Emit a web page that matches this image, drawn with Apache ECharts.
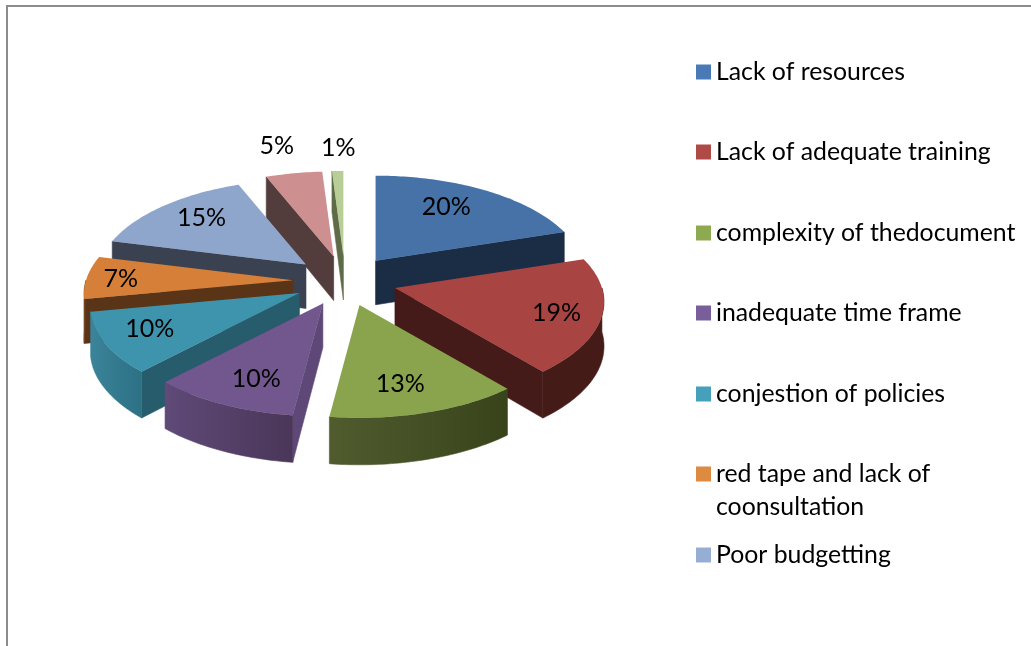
<!DOCTYPE html>
<html>
<head>
<meta charset="utf-8">
<style>
  html, body { margin: 0; padding: 0; background: #fff; }
  #chart { width: 1031px; height: 646px; }
</style>
<script src="https://cdn.jsdelivr.net/npm/echarts@6/dist/echarts.min.js"></script>
</head>
<body>
<div id="chart"></div>
<script>
// values
const sliceNames = [
  'Lack of resources',
  'Lack of adequate training',
  'complexity of thedocument',
  'inadequate time frame',
  'conjestion of policies',
  'red tape and lack of\ncoonsultation',
  'Poor budgetting',
  'slice 8',
  'slice 9'
]
const sliceValues = [20, 19, 13, 10, 10, 7, 15, 5, 1]

// colours per slice
const topColors = ['#4672a8', '#a84442', '#89a44c', '#71578e', '#3f94ad', '#d67f38', '#8fa6cc', '#cd8f8f', '#b9cd96']
const wallColors = ['#1b2d44', '#441b18', '#38431b', '#5d4878', '#265c6b', '#5a3416', '#3a4150', '#533c3c', '#5f6b48']
const rimFrom = ['#1b2d44', '#451b18', '#505c2e', '#5f4a78', '#3b8499', '#7a4a20', '#3a4150', '#533c3c', '#5f6b48']
const rimTo = ['#1b2d44', '#451b18', '#38431b', '#4a3658', '#2c7084', '#5a3416', '#3a4150', '#533c3c', '#5f6b48']
const legendColors = ['#4a7ab5', '#b04a47', '#8daa50', '#785f99', '#45a0bb', '#de8a41', '#97aed4']

// painter order, back to front
const backToFront = [8, 7, 6, 5, 4, 3, 0, 1, 2]

// label placement along the slice, then a small nudge
const labelRadius = [0.73, 0.8, 0.7, 0.72, 0.77, 0.86, 0.77, 1.33, 1.25]
const labelDx = [-9, -4, -6, 6, 0, 5, 5, -4, 2]
const labelDy = [-2, 2, 4, 3, -3, 1, -1, 0, -2]
const legendCenters = [72, 152, 233, 313, 394, 474, 555]

const startAngle = 0
const cx = 345
const cy = 281
const explodeX = 52
const explodeY = 25
const radiusX = 207
const radiusY = 97
const persp = 0.14

const total = sliceValues.reduce(function (a, b) { return a + b }, 0)

function rad (d) { return d * Math.PI / 180 }

function sliceAngles (idx) {
  let before = 0
  for (let i = 0; i < idx; i++) before += sliceValues[i]
  const t1 = startAngle + before / total * 360
  const t2 = t1 + sliceValues[idx] / total * 360
  return [t1, t2]
}

function rimPoint (apex, t, frac) {
  const v = -Math.cos(rad(t))
  const s = 1 / (1 - persp * v)
  return [apex[0] + radiusX * frac * Math.sin(rad(t)) * s, apex[1] + radiusY * frac * v * s]
}

function depthAt (t) {
  return 44 - 3 * Math.cos(rad(t))
}

function wall (apex, t, color) {
  const p = rimPoint(apex, t, 1)
  const d = depthAt(t)
  return {
    type: 'polygon',
    shape: { points: [apex, p, [p[0], p[1] + d], [apex[0], apex[1] + 44]] },
    style: { fill: color, stroke: color, lineWidth: 0.6 }
  }
}

function renderSlice (params, api) {
  const i = params.seriesIndex
  const angles = sliceAngles(i)
  const t1 = angles[0]
  const t2 = angles[1]
  const mid = (t1 + t2) / 2
  const apex = [cx + explodeX * Math.sin(rad(mid)), cy - explodeY * Math.cos(rad(mid))]
  const children = []

  // side walls that face the viewer
  if (Math.sin(rad(t1)) < -0.001) children.push(wall(apex, t1, wallColors[i]))
  if (Math.sin(rad(t2)) > 0.001) children.push(wall(apex, t2, wallColors[i]))

  // outer rim, front half only
  const a = Math.max(t1, 90)
  const b = Math.min(t2, 270)
  if (a < b) {
    const upper = []
    const lower = []
    for (let t = a; t < b; t += 1) {
      const p = rimPoint(apex, t, 1)
      upper.push(p)
      lower.unshift([p[0], p[1] + depthAt(t)])
    }
    const q = rimPoint(apex, b, 1)
    upper.push(q)
    lower.unshift([q[0], q[1] + depthAt(b)])
    const rimFill = new echarts.graphic.LinearGradient(0, 0, 1, 0, [
      { offset: 0, color: rimFrom[i] },
      { offset: 1, color: rimTo[i] }
    ])
    children.push({
      type: 'polygon',
      shape: { points: upper.concat(lower) },
      style: { fill: rimFill, stroke: rimFill, lineWidth: 0.6 }
    })
  }

  // top face
  const top = [apex]
  for (let t = t1; t < t2; t += 1) top.push(rimPoint(apex, t, 1))
  top.push(rimPoint(apex, t2, 1))
  children.push({
    type: 'polygon',
    shape: { points: top },
    style: { fill: topColors[i] }
  })

  const lp = rimPoint(apex, mid, labelRadius[i])
  children.push({
    type: 'text',
    style: {
      x: lp[0] + labelDx[i],
      y: lp[1] + labelDy[i],
      text: api.value(0) + '%',
      align: 'center',
      verticalAlign: 'middle',
      fill: '#000',
      fontFamily: 'Lato',
      fontSize: 25
    }
  })
  return { type: 'group', children: children }
}

const series = sliceNames.map(function (name, i) {
  return {
    type: 'custom',
    name: name,
    coordinateSystem: 'none',
    z: 2 + backToFront.indexOf(i),
    silent: true,
    itemStyle: { color: legendColors[i] || topColors[i] },
    data: [[sliceValues[i]]],
    renderItem: renderSlice
  }
})

// one legend per row, the rows are not evenly spaced
const legends = legendCenters.map(function (y, i) {
  const wrapped = sliceNames[i].indexOf('\n') >= 0
  return {
    left: 696,
    top: wrapped ? y - 49.5 : y - 16.5,
    orient: 'vertical',
    selectedMode: false,
    icon: 'rect',
    itemWidth: 15,
    itemHeight: 15,
    padding: 0,
    // blank first line keeps the swatch level with the first line of a wrapped name
    formatter: function (name) { return wrapped ? '\n' + name : name },
    textStyle: { color: '#000', fontFamily: 'Lato', fontSize: 24.8, lineHeight: 33 },
    data: [sliceNames[i]]
  }
})

const myChart = echarts.init(document.getElementById('chart'), null, { renderer: 'canvas' })
myChart.setOption({
  animation: false,
  backgroundColor: '#fff',
  legend: legends,
  series: series,
  graphic: [{
    type: 'polyline',
    silent: true,
    shape: { points: [[7, 646], [7, 6], [1031, 6]] },
    style: { stroke: '#8c8c8c', lineWidth: 2, fill: null }
  }]
})
</script>
</body>
</html>
